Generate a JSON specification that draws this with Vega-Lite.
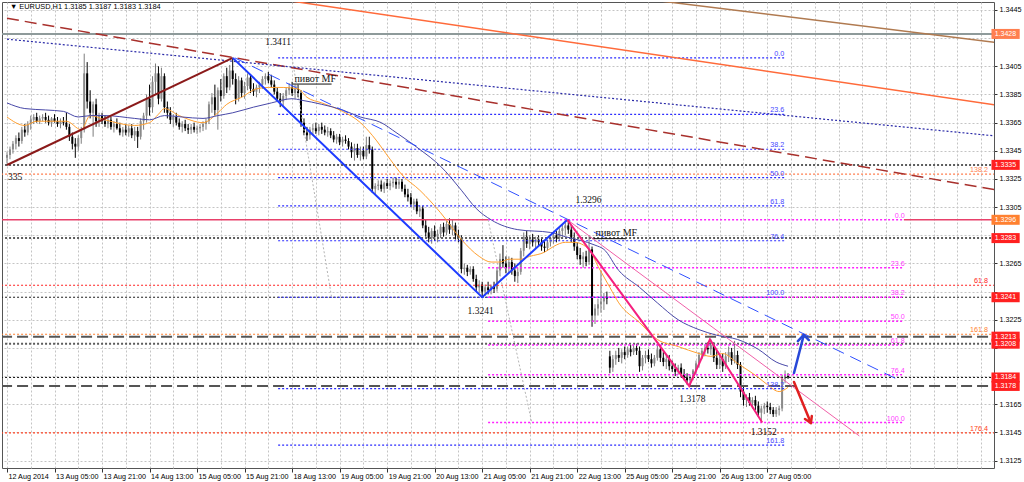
{
  "$schema": "https://vega.github.io/schema/vega-lite/v6.json",
  "width": 992,
  "height": 466,
  "autosize": {"type": "none"},
  "padding": {"left": 2, "top": 2, "right": 30, "bottom": 14},
  "background": "white",
  "config": {"view": {"stroke": "#555555", "strokeWidth": 1}, "text": {"font": "Liberation Sans"}},
  "resolve": {"axis": {"x": "independent", "y": "independent"}},
  "datasets": {
    "candles": [
      {"b":0,"o":1.3340,"h":1.3344,"l":1.3336,"c":1.3342},{"b":1,"o":1.3342,"h":1.3348,"l":1.3339,"c":1.3346},{"b":2,"o":1.3346,"h":1.3352,"l":1.3343,"c":1.3350},{"b":3,"o":1.3350,"h":1.3356,"l":1.3346,"c":1.3354},{"b":4,"o":1.3354,"h":1.3358,"l":1.3348,"c":1.3352},{"b":5,"o":1.3352,"h":1.3362,"l":1.3350,"c":1.3360},{"b":6,"o":1.3360,"h":1.3364,"l":1.3355,"c":1.3358},{"b":7,"o":1.3358,"h":1.3366,"l":1.3356,"c":1.3364},{"b":8,"o":1.3364,"h":1.3370,"l":1.3360,"c":1.3367},
      {"b":9,"o":1.3367,"h":1.3371,"l":1.3364,"c":1.3369},{"b":10,"o":1.3369,"h":1.3372,"l":1.3365,"c":1.3366},{"b":11,"o":1.3366,"h":1.3370,"l":1.3364,"c":1.3368},{"b":12,"o":1.3368,"h":1.3371,"l":1.3366,"c":1.3369},{"b":13,"o":1.3369,"h":1.3372,"l":1.3365,"c":1.3367},{"b":14,"o":1.3367,"h":1.3370,"l":1.3363,"c":1.3365},{"b":15,"o":1.3365,"h":1.3369,"l":1.3362,"c":1.3368},{"b":16,"o":1.3368,"h":1.3371,"l":1.3365,"c":1.3366},{"b":17,"o":1.3366,"h":1.3369,"l":1.3362,"c":1.3364},{"b":18,"o":1.3364,"h":1.3368,"l":1.3361,"c":1.3366},{"b":19,"o":1.3366,"h":1.3369,"l":1.3363,"c":1.3365},
      {"b":20,"o":1.3365,"h":1.3372,"l":1.3360,"c":1.3362},{"b":21,"o":1.3362,"h":1.3364,"l":1.3352,"c":1.3355},{"b":22,"o":1.3355,"h":1.3358,"l":1.3346,"c":1.3350},{"b":23,"o":1.3350,"h":1.3354,"l":1.3340,"c":1.3348},{"b":24,"o":1.3348,"h":1.3356,"l":1.3345,"c":1.3354},{"b":25,"o":1.3354,"h":1.3362,"l":1.3350,"c":1.3360},
      {"b":26,"o":1.3360,"h":1.3414,"l":1.3358,"c":1.3400},{"b":27,"o":1.3400,"h":1.3408,"l":1.3375,"c":1.3380},{"b":28,"o":1.3380,"h":1.3388,"l":1.3368,"c":1.3372},{"b":29,"o":1.3372,"h":1.3380,"l":1.3355,"c":1.3378},{"b":30,"o":1.3378,"h":1.3382,"l":1.3362,"c":1.3366},{"b":31,"o":1.3366,"h":1.3372,"l":1.3362,"c":1.3370},
      {"b":32,"o":1.3370,"h":1.3372,"l":1.3364,"c":1.3366},{"b":33,"o":1.3366,"h":1.3370,"l":1.3362,"c":1.3364},{"b":34,"o":1.3364,"h":1.3369,"l":1.3361,"c":1.3367},{"b":35,"o":1.3367,"h":1.3369,"l":1.3360,"c":1.3362},{"b":36,"o":1.3362,"h":1.3366,"l":1.3358,"c":1.3364},{"b":37,"o":1.3364,"h":1.3368,"l":1.3360,"c":1.3361},{"b":38,"o":1.3361,"h":1.3365,"l":1.3356,"c":1.3358},{"b":39,"o":1.3358,"h":1.3362,"l":1.3355,"c":1.3360},
      {"b":40,"o":1.3360,"h":1.3364,"l":1.3356,"c":1.3358},{"b":41,"o":1.3358,"h":1.3363,"l":1.3355,"c":1.3361},{"b":42,"o":1.3361,"h":1.3364,"l":1.3354,"c":1.3356},{"b":43,"o":1.3356,"h":1.3362,"l":1.3352,"c":1.3359},{"b":44,"o":1.3359,"h":1.3362,"l":1.3347,"c":1.3355},{"b":45,"o":1.3355,"h":1.3368,"l":1.3353,"c":1.3366},
      {"b":46,"o":1.3366,"h":1.3372,"l":1.3360,"c":1.3370},{"b":47,"o":1.3370,"h":1.3385,"l":1.3365,"c":1.3382},{"b":48,"o":1.3382,"h":1.3392,"l":1.3370,"c":1.3376},{"b":49,"o":1.3376,"h":1.3398,"l":1.3372,"c":1.3394},{"b":50,"o":1.3394,"h":1.3407,"l":1.3385,"c":1.3400},{"b":51,"o":1.3400,"h":1.3405,"l":1.3378,"c":1.3382},{"b":52,"o":1.3382,"h":1.3404,"l":1.3380,"c":1.3398},{"b":53,"o":1.3398,"h":1.3400,"l":1.3372,"c":1.3376},
      {"b":54,"o":1.3376,"h":1.3380,"l":1.3368,"c":1.3372},{"b":55,"o":1.3372,"h":1.3376,"l":1.3364,"c":1.3367},{"b":56,"o":1.3367,"h":1.3371,"l":1.3362,"c":1.3369},{"b":57,"o":1.3369,"h":1.3372,"l":1.3363,"c":1.3365},{"b":58,"o":1.3365,"h":1.3368,"l":1.3360,"c":1.3362},{"b":59,"o":1.3362,"h":1.3366,"l":1.3358,"c":1.3364},{"b":60,"o":1.3364,"h":1.3367,"l":1.3359,"c":1.3361},{"b":61,"o":1.3361,"h":1.3364,"l":1.3357,"c":1.3360},{"b":62,"o":1.3360,"h":1.3364,"l":1.3357,"c":1.3362},{"b":63,"o":1.3362,"h":1.3365,"l":1.3358,"c":1.3360},{"b":64,"o":1.3360,"h":1.3363,"l":1.3357,"c":1.3361},
      {"b":65,"o":1.3361,"h":1.3364,"l":1.3358,"c":1.3362},{"b":66,"o":1.3362,"h":1.3366,"l":1.3359,"c":1.3364},{"b":67,"o":1.3364,"h":1.3368,"l":1.3360,"c":1.3366},{"b":68,"o":1.3366,"h":1.3380,"l":1.3364,"c":1.3378},{"b":69,"o":1.3378,"h":1.3386,"l":1.3372,"c":1.3383},{"b":70,"o":1.3383,"h":1.3392,"l":1.3370,"c":1.3374},{"b":71,"o":1.3374,"h":1.3390,"l":1.3360,"c":1.3388},{"b":72,"o":1.3388,"h":1.3396,"l":1.3380,"c":1.3384},{"b":73,"o":1.3384,"h":1.3400,"l":1.3382,"c":1.3398},{"b":74,"o":1.3398,"h":1.3404,"l":1.3386,"c":1.3390},{"b":75,"o":1.3390,"h":1.3406,"l":1.3388,"c":1.3402},{"b":76,"o":1.3402,"h":1.3411,"l":1.3392,"c":1.3396},
      {"b":77,"o":1.3396,"h":1.3400,"l":1.3378,"c":1.3382},{"b":78,"o":1.3382,"h":1.3398,"l":1.3380,"c":1.3395},{"b":79,"o":1.3395,"h":1.3397,"l":1.3383,"c":1.3386},{"b":80,"o":1.3386,"h":1.3394,"l":1.3382,"c":1.3391},{"b":81,"o":1.3391,"h":1.3400,"l":1.3388,"c":1.3397},{"b":82,"o":1.3397,"h":1.3399,"l":1.3386,"c":1.3389},{"b":83,"o":1.3389,"h":1.3393,"l":1.3384,"c":1.3387},{"b":84,"o":1.3387,"h":1.3392,"l":1.3383,"c":1.3390},{"b":85,"o":1.3390,"h":1.3394,"l":1.3386,"c":1.3392},{"b":86,"o":1.3392,"h":1.3398,"l":1.3389,"c":1.3396},{"b":87,"o":1.3396,"h":1.3400,"l":1.3392,"c":1.3398},{"b":88,"o":1.3398,"h":1.3401,"l":1.3393,"c":1.3395},{"b":89,"o":1.3395,"h":1.3399,"l":1.3390,"c":1.3392},{"b":90,"o":1.3392,"h":1.3395,"l":1.3385,"c":1.3387},{"b":91,"o":1.3387,"h":1.3390,"l":1.3380,"c":1.3382},{"b":92,"o":1.3382,"h":1.3386,"l":1.3376,"c":1.3380},{"b":93,"o":1.3380,"h":1.3386,"l":1.3377,"c":1.3384},{"b":94,"o":1.3384,"h":1.3390,"l":1.3381,"c":1.3388},{"b":95,"o":1.3388,"h":1.3393,"l":1.3385,"c":1.3390},{"b":96,"o":1.3390,"h":1.3394,"l":1.3384,"c":1.3386},{"b":97,"o":1.3386,"h":1.3392,"l":1.3382,"c":1.3389},
      {"b":98,"o":1.3389,"h":1.3392,"l":1.3383,"c":1.3386},{"b":99,"o":1.3386,"h":1.3388,"l":1.3362,"c":1.3365},{"b":100,"o":1.3365,"h":1.3368,"l":1.3356,"c":1.3358},{"b":101,"o":1.3358,"h":1.3362,"l":1.3352,"c":1.3356},{"b":102,"o":1.3356,"h":1.3362,"l":1.3353,"c":1.3360},{"b":103,"o":1.3360,"h":1.3364,"l":1.3356,"c":1.3361},{"b":104,"o":1.3361,"h":1.3365,"l":1.3357,"c":1.3359},{"b":105,"o":1.3359,"h":1.3364,"l":1.3356,"c":1.3362},{"b":106,"o":1.3362,"h":1.3365,"l":1.3357,"c":1.3360},{"b":107,"o":1.3360,"h":1.3363,"l":1.3356,"c":1.3358},{"b":108,"o":1.3358,"h":1.3362,"l":1.3355,"c":1.3359},{"b":109,"o":1.3359,"h":1.3361,"l":1.3354,"c":1.3356},{"b":110,"o":1.3356,"h":1.3359,"l":1.3351,"c":1.3353},{"b":111,"o":1.3353,"h":1.3357,"l":1.3350,"c":1.3355},{"b":112,"o":1.3355,"h":1.3357,"l":1.3349,"c":1.3351},{"b":113,"o":1.3351,"h":1.3355,"l":1.3348,"c":1.3353},{"b":114,"o":1.3353,"h":1.3356,"l":1.3350,"c":1.3352},{"b":115,"o":1.3352,"h":1.3354,"l":1.3346,"c":1.3348},{"b":116,"o":1.3348,"h":1.3351,"l":1.3340,"c":1.3344},{"b":117,"o":1.3344,"h":1.3350,"l":1.3338,"c":1.3347},{"b":118,"o":1.3347,"h":1.3350,"l":1.3340,"c":1.3342},{"b":119,"o":1.3342,"h":1.3348,"l":1.3338,"c":1.3345},{"b":120,"o":1.3345,"h":1.3348,"l":1.3339,"c":1.3341},{"b":121,"o":1.3341,"h":1.3355,"l":1.3339,"c":1.3349},{"b":122,"o":1.3349,"h":1.3355,"l":1.3343,"c":1.3346},
      {"b":123,"o":1.3346,"h":1.3348,"l":1.3315,"c":1.3318},{"b":124,"o":1.3318,"h":1.3322,"l":1.3314,"c":1.3320},{"b":125,"o":1.3320,"h":1.3324,"l":1.3317,"c":1.3321},{"b":126,"o":1.3321,"h":1.3324,"l":1.3316,"c":1.3318},{"b":127,"o":1.3318,"h":1.3323,"l":1.3315,"c":1.3322},{"b":128,"o":1.3322,"h":1.3325,"l":1.3318,"c":1.3320},{"b":129,"o":1.3320,"h":1.3324,"l":1.3317,"c":1.3322},{"b":130,"o":1.3322,"h":1.3326,"l":1.3319,"c":1.3323},{"b":131,"o":1.3323,"h":1.3326,"l":1.3318,"c":1.3321},{"b":132,"o":1.3321,"h":1.3325,"l":1.3318,"c":1.3323},{"b":133,"o":1.3323,"h":1.3325,"l":1.3316,"c":1.3318},{"b":134,"o":1.3318,"h":1.3321,"l":1.3312,"c":1.3314},{"b":135,"o":1.3314,"h":1.3318,"l":1.3309,"c":1.3312},
      {"b":136,"o":1.3312,"h":1.3315,"l":1.3305,"c":1.3307},{"b":137,"o":1.3307,"h":1.3311,"l":1.3303,"c":1.3309},{"b":138,"o":1.3309,"h":1.3311,"l":1.3300,"c":1.3302},{"b":139,"o":1.3302,"h":1.3306,"l":1.3298,"c":1.3304},{"b":140,"o":1.3304,"h":1.3306,"l":1.3290,"c":1.3292},{"b":141,"o":1.3292,"h":1.3296,"l":1.3284,"c":1.3287},{"b":142,"o":1.3287,"h":1.3291,"l":1.3280,"c":1.3283},{"b":143,"o":1.3283,"h":1.3290,"l":1.3279,"c":1.3288},{"b":144,"o":1.3288,"h":1.3292,"l":1.3281,"c":1.3284},{"b":145,"o":1.3284,"h":1.3289,"l":1.3280,"c":1.3286},{"b":146,"o":1.3286,"h":1.3293,"l":1.3283,"c":1.3291},{"b":147,"o":1.3291,"h":1.3294,"l":1.3284,"c":1.3287},{"b":148,"o":1.3287,"h":1.3295,"l":1.3285,"c":1.3293},{"b":149,"o":1.3293,"h":1.3297,"l":1.3286,"c":1.3289},{"b":150,"o":1.3289,"h":1.3296,"l":1.3285,"c":1.3292},{"b":151,"o":1.3292,"h":1.3294,"l":1.3282,"c":1.3285},{"b":152,"o":1.3285,"h":1.3289,"l":1.3280,"c":1.3283},
      {"b":153,"o":1.3283,"h":1.3285,"l":1.3258,"c":1.3261},{"b":154,"o":1.3261,"h":1.3265,"l":1.3257,"c":1.3262},{"b":155,"o":1.3262,"h":1.3264,"l":1.3256,"c":1.3259},{"b":156,"o":1.3259,"h":1.3263,"l":1.3257,"c":1.3261},{"b":157,"o":1.3261,"h":1.3263,"l":1.3252,"c":1.3254},{"b":158,"o":1.3254,"h":1.3257,"l":1.3245,"c":1.3248},{"b":159,"o":1.3248,"h":1.3253,"l":1.3244,"c":1.3250},{"b":160,"o":1.3250,"h":1.3252,"l":1.3241,"c":1.3245},{"b":161,"o":1.3245,"h":1.3250,"l":1.3242,"c":1.3248},
      {"b":162,"o":1.3248,"h":1.3252,"l":1.3243,"c":1.3246},{"b":163,"o":1.3246,"h":1.3250,"l":1.3243,"c":1.3249},{"b":164,"o":1.3249,"h":1.3252,"l":1.3244,"c":1.3247},{"b":165,"o":1.3247,"h":1.3262,"l":1.3245,"c":1.3260},{"b":166,"o":1.3260,"h":1.3272,"l":1.3256,"c":1.3268},{"b":167,"o":1.3268,"h":1.3278,"l":1.3262,"c":1.3265},{"b":168,"o":1.3265,"h":1.3270,"l":1.3258,"c":1.3262},
      {"b":169,"o":1.3262,"h":1.3270,"l":1.3258,"c":1.3266},{"b":170,"o":1.3266,"h":1.3269,"l":1.3257,"c":1.3260},{"b":171,"o":1.3260,"h":1.3265,"l":1.3252,"c":1.3256},{"b":172,"o":1.3256,"h":1.3262,"l":1.3251,"c":1.3259},{"b":173,"o":1.3259,"h":1.3276,"l":1.3257,"c":1.3274},{"b":174,"o":1.3274,"h":1.3287,"l":1.3270,"c":1.3284},{"b":175,"o":1.3284,"h":1.3288,"l":1.3276,"c":1.3279},
      {"b":176,"o":1.3279,"h":1.3285,"l":1.3275,"c":1.3282},{"b":177,"o":1.3282,"h":1.3286,"l":1.3277,"c":1.3280},{"b":178,"o":1.3280,"h":1.3284,"l":1.3276,"c":1.3282},{"b":179,"o":1.3282,"h":1.3285,"l":1.3278,"c":1.3280},{"b":180,"o":1.3280,"h":1.3283,"l":1.3274,"c":1.3277},{"b":181,"o":1.3277,"h":1.3281,"l":1.3273,"c":1.3276},{"b":182,"o":1.3276,"h":1.3282,"l":1.3274,"c":1.3280},{"b":183,"o":1.3280,"h":1.3284,"l":1.3277,"c":1.3283},{"b":184,"o":1.3283,"h":1.3287,"l":1.3279,"c":1.3285},{"b":185,"o":1.3285,"h":1.3288,"l":1.3280,"c":1.3283},{"b":186,"o":1.3283,"h":1.3290,"l":1.3281,"c":1.3288},{"b":187,"o":1.3288,"h":1.3293,"l":1.3284,"c":1.3290},{"b":188,"o":1.3290,"h":1.3294,"l":1.3285,"c":1.3292},{"b":189,"o":1.3292,"h":1.3296,"l":1.3286,"c":1.3289},
      {"b":190,"o":1.3289,"h":1.3292,"l":1.3280,"c":1.3283},{"b":191,"o":1.3283,"h":1.3287,"l":1.3274,"c":1.3277},{"b":192,"o":1.3277,"h":1.3280,"l":1.3268,"c":1.3271},{"b":193,"o":1.3271,"h":1.3276,"l":1.3264,"c":1.3268},{"b":194,"o":1.3268,"h":1.3273,"l":1.3262,"c":1.3270},{"b":195,"o":1.3270,"h":1.3274,"l":1.3263,"c":1.3266},{"b":196,"o":1.3266,"h":1.3285,"l":1.3264,"c":1.3275},{"b":197,"o":1.3275,"h":1.3277,"l":1.3220,"c":1.3228},{"b":198,"o":1.3228,"h":1.3236,"l":1.3222,"c":1.3233},{"b":199,"o":1.3233,"h":1.3240,"l":1.3228,"c":1.3236},{"b":200,"o":1.3236,"h":1.3260,"l":1.3230,"c":1.3238},{"b":201,"o":1.3238,"h":1.3244,"l":1.3232,"c":1.3241},{"b":202,"o":1.3241,"h":1.3245,"l":1.3236,"c":1.3240},
      {"b":203,"o":1.3199,"h":1.3203,"l":1.3187,"c":1.3191},{"b":204,"o":1.3191,"h":1.3200,"l":1.3188,"c":1.3197},{"b":205,"o":1.3197,"h":1.3203,"l":1.3193,"c":1.3200},{"b":206,"o":1.3200,"h":1.3205,"l":1.3195,"c":1.3198},{"b":207,"o":1.3198,"h":1.3204,"l":1.3194,"c":1.3202},{"b":208,"o":1.3202,"h":1.3206,"l":1.3197,"c":1.3200},{"b":209,"o":1.3200,"h":1.3206,"l":1.3198,"c":1.3204},{"b":210,"o":1.3204,"h":1.3207,"l":1.3199,"c":1.3202},{"b":211,"o":1.3202,"h":1.3207,"l":1.3200,"c":1.3205},{"b":212,"o":1.3205,"h":1.3208,"l":1.3200,"c":1.3203},{"b":213,"o":1.3203,"h":1.3206,"l":1.3188,"c":1.3192},{"b":214,"o":1.3192,"h":1.3200,"l":1.3189,"c":1.3198},{"b":215,"o":1.3198,"h":1.3203,"l":1.3194,"c":1.3200},{"b":216,"o":1.3200,"h":1.3204,"l":1.3195,"c":1.3197},{"b":217,"o":1.3197,"h":1.3201,"l":1.3191,"c":1.3194},{"b":218,"o":1.3194,"h":1.3200,"l":1.3192,"c":1.3198},{"b":219,"o":1.3198,"h":1.3208,"l":1.3196,"c":1.3204},{"b":220,"o":1.3204,"h":1.3207,"l":1.3195,"c":1.3198},{"b":221,"o":1.3198,"h":1.3202,"l":1.3192,"c":1.3195},{"b":222,"o":1.3195,"h":1.3200,"l":1.3190,"c":1.3197},{"b":223,"o":1.3197,"h":1.3200,"l":1.3189,"c":1.3192},{"b":224,"o":1.3192,"h":1.3196,"l":1.3188,"c":1.3190},{"b":225,"o":1.3190,"h":1.3194,"l":1.3185,"c":1.3188},{"b":226,"o":1.3188,"h":1.3193,"l":1.3186,"c":1.3191},{"b":227,"o":1.3191,"h":1.3194,"l":1.3184,"c":1.3186},{"b":228,"o":1.3186,"h":1.3190,"l":1.3182,"c":1.3184},{"b":229,"o":1.3184,"h":1.3187,"l":1.3179,"c":1.3182},{"b":230,"o":1.3182,"h":1.3186,"l":1.3178,"c":1.3184},
      {"b":231,"o":1.3184,"h":1.3190,"l":1.3182,"c":1.3189},{"b":232,"o":1.3189,"h":1.3196,"l":1.3186,"c":1.3194},{"b":233,"o":1.3194,"h":1.3202,"l":1.3191,"c":1.3200},{"b":234,"o":1.3200,"h":1.3205,"l":1.3197,"c":1.3203},{"b":235,"o":1.3203,"h":1.3207,"l":1.3199,"c":1.3205},{"b":236,"o":1.3205,"h":1.3209,"l":1.3201,"c":1.3204},{"b":237,"o":1.3204,"h":1.3211,"l":1.3200,"c":1.3207},{"b":238,"o":1.3207,"h":1.3209,"l":1.3195,"c":1.3198},{"b":239,"o":1.3198,"h":1.3203,"l":1.3190,"c":1.3193},{"b":240,"o":1.3193,"h":1.3200,"l":1.3190,"c":1.3197},{"b":241,"o":1.3197,"h":1.3201,"l":1.3188,"c":1.3192},{"b":242,"o":1.3192,"h":1.3202,"l":1.3190,"c":1.3199},{"b":243,"o":1.3199,"h":1.3206,"l":1.3195,"c":1.3202},{"b":244,"o":1.3202,"h":1.3205,"l":1.3193,"c":1.3196},{"b":245,"o":1.3196,"h":1.3210,"l":1.3194,"c":1.3200},{"b":246,"o":1.3200,"h":1.3203,"l":1.3190,"c":1.3193},
      {"b":247,"o":1.3193,"h":1.3195,"l":1.3170,"c":1.3174},{"b":248,"o":1.3174,"h":1.3178,"l":1.3164,"c":1.3168},{"b":249,"o":1.3168,"h":1.3172,"l":1.3163,"c":1.3170},{"b":250,"o":1.3170,"h":1.3173,"l":1.3164,"c":1.3166},{"b":251,"o":1.3166,"h":1.3170,"l":1.3162,"c":1.3168},{"b":252,"o":1.3168,"h":1.3171,"l":1.3161,"c":1.3164},{"b":253,"o":1.3164,"h":1.3167,"l":1.3156,"c":1.3159},{"b":254,"o":1.3159,"h":1.3164,"l":1.3152,"c":1.3162},{"b":255,"o":1.3162,"h":1.3166,"l":1.3158,"c":1.3164},{"b":256,"o":1.3164,"h":1.3167,"l":1.3159,"c":1.3163},{"b":257,"o":1.3163,"h":1.3166,"l":1.3158,"c":1.3161},{"b":258,"o":1.3161,"h":1.3163,"l":1.3156,"c":1.3158},{"b":259,"o":1.3158,"h":1.3163,"l":1.3156,"c":1.3161},{"b":260,"o":1.3161,"h":1.3164,"l":1.3157,"c":1.3162},{"b":261,"o":1.3162,"h":1.3186,"l":1.3160,"c":1.3183},{"b":262,"o":1.3183,"h":1.3189,"l":1.3180,"c":1.3186},{"b":263,"o":1.3185,"h":1.3187,"l":1.3183,"c":1.3184}
    ],
    "ma": [
      {"s":"f","b":0,"p":1.3369},{"s":"f","b":6,"p":1.3363},{"s":"f","b":10,"p":1.3366},{"s":"f","b":20,"p":1.3366},{"s":"f","b":25,"p":1.3360},{"s":"f","b":28,"p":1.3370},{"s":"f","b":33,"p":1.3367},{"s":"f","b":43,"p":1.3363},{"s":"f","b":48,"p":1.3365},{"s":"f","b":51,"p":1.3371},{"s":"f","b":53,"p":1.3375},{"s":"f","b":58,"p":1.3370},{"s":"f","b":66,"p":1.3365},{"s":"f","b":71,"p":1.3372},{"s":"f","b":74,"p":1.3378},{"s":"f","b":79,"p":1.3383},{"s":"f","b":84,"p":1.3389},{"s":"f","b":88,"p":1.3390},{"s":"f","b":93,"p":1.3390},{"s":"f","b":98,"p":1.3389},{"s":"f","b":101,"p":1.3383},{"s":"f","b":106,"p":1.3379},{"s":"f","b":113,"p":1.3373},{"s":"f","b":119,"p":1.3365},{"s":"f","b":123,"p":1.3356},{"s":"f","b":129,"p":1.3339},{"s":"f","b":133,"p":1.3328},{"s":"f","b":139,"p":1.3317},{"s":"f","b":146,"p":1.3301},{"s":"f","b":153,"p":1.3282},{"s":"f","b":159,"p":1.3270},{"s":"f","b":163,"p":1.3266},{"s":"f","b":166,"p":1.3266},{"s":"f","b":169,"p":1.3268},{"s":"f","b":173,"p":1.3268},{"s":"f","b":176,"p":1.3270},{"s":"f","b":181,"p":1.3273},{"s":"f","b":184,"p":1.3277},{"s":"f","b":188,"p":1.3280},{"s":"f","b":191,"p":1.3280},{"s":"f","b":196,"p":1.3275},{"s":"f","b":199,"p":1.3263},{"s":"f","b":203,"p":1.3248},{"s":"f","b":206,"p":1.3237},{"s":"f","b":213,"p":1.3223},{"s":"f","b":219,"p":1.3211},{"s":"f","b":226,"p":1.3206},{"s":"f","b":233,"p":1.3201},{"s":"f","b":237,"p":1.3199},{"s":"f","b":241,"p":1.3201},{"s":"f","b":246,"p":1.3194},{"s":"f","b":253,"p":1.3184},{"s":"f","b":256,"p":1.3179},{"s":"f","b":260,"p":1.3174},{"s":"f","b":263,"p":1.3177},
      {"s":"s","b":0,"p":1.3379},{"s":"s","b":6,"p":1.3375},{"s":"s","b":13,"p":1.3374},{"s":"s","b":19,"p":1.3373},{"s":"s","b":24,"p":1.3369},{"s":"s","b":28,"p":1.3370},{"s":"s","b":33,"p":1.3370},{"s":"s","b":43,"p":1.3368},{"s":"s","b":48,"p":1.3367},{"s":"s","b":53,"p":1.3370},{"s":"s","b":59,"p":1.3369},{"s":"s","b":66,"p":1.3368},{"s":"s","b":71,"p":1.3370},{"s":"s","b":76,"p":1.3372},{"s":"s","b":83,"p":1.3376},{"s":"s","b":89,"p":1.3379},{"s":"s","b":96,"p":1.3382},{"s":"s","b":99,"p":1.3381},{"s":"s","b":106,"p":1.3378},{"s":"s","b":113,"p":1.3374},{"s":"s","b":119,"p":1.3369},{"s":"s","b":126,"p":1.3365},{"s":"s","b":131,"p":1.3358},{"s":"s","b":139,"p":1.3346},{"s":"s","b":146,"p":1.3334},{"s":"s","b":153,"p":1.3317},{"s":"s","b":158,"p":1.3304},{"s":"s","b":163,"p":1.3296},{"s":"s","b":172,"p":1.3289},{"s":"s","b":183,"p":1.3287},{"s":"s","b":188,"p":1.3284},{"s":"s","b":198,"p":1.3278},{"s":"s","b":201,"p":1.3275},{"s":"s","b":206,"p":1.3260},{"s":"s","b":213,"p":1.3248},{"s":"s","b":219,"p":1.3237},{"s":"s","b":226,"p":1.3225},{"s":"s","b":233,"p":1.3218},{"s":"s","b":239,"p":1.3214},{"s":"s","b":246,"p":1.3211},{"s":"s","b":253,"p":1.3204},{"s":"s","b":259,"p":1.3195},{"s":"s","b":263,"p":1.3192}
    ],
    "levels": [
      {"k":"graysolid","p":1.3428,"b1":-2,"b2":333},
      {"k":"pivotdot","p":1.3335,"b1":-2,"b2":333},
      {"k":"pivotdot","p":1.3283,"b1":-2,"b2":333},
      {"k":"pivotdot","p":1.3208,"b1":-2,"b2":333},
      {"k":"blackdot","p":1.3241,"b1":-2,"b2":333},
      {"k":"blackdot","p":1.3184,"b1":-2,"b2":333},
      {"k":"longdash","p":1.3213,"b1":-2,"b2":333},
      {"k":"longdash","p":1.3178,"b1":-2,"b2":333},
      {"k":"crimson","p":1.3296,"b1":-2,"b2":162},
      {"k":"crimson","p":1.3296,"b1":302,"b2":333},
      {"k":"ext","t":"138.2","p":1.33285,"b1":-2,"b2":333},
      {"k":"ext","t":"61.8","p":1.32495,"b1":-2,"b2":333},
      {"k":"ext","t":"161.8","p":1.32147,"b1":-2,"b2":333},
      {"k":"ext","t":"176.4","p":1.31446,"b1":-2,"b2":333},
      {"k":"fibblue","p":1.3411,"b1":91.3,"b2":261.7},
      {"k":"fibblue","p":1.33709,"b1":91.3,"b2":261.7},
      {"k":"fibblue","p":1.33461,"b1":91.3,"b2":261.7},
      {"k":"fibblue","p":1.3326,"b1":91.3,"b2":261.7},
      {"k":"fibblue","p":1.33059,"b1":91.3,"b2":261.7},
      {"k":"fibblue","p":1.32811,"b1":91.3,"b2":261.7},
      {"k":"fibblue","p":1.3241,"b1":91.3,"b2":261.7},
      {"k":"fibblue","p":1.31761,"b1":91.3,"b2":261.7},
      {"k":"fibblue","p":1.31359,"b1":91.3,"b2":261.7},
      {"k":"fibmag","p":1.3296,"b1":162,"b2":302},
      {"k":"fibmag","p":1.3262,"b1":162,"b2":302},
      {"k":"fibmag","p":1.3241,"b1":162,"b2":302},
      {"k":"fibmag","p":1.3224,"b1":162,"b2":302},
      {"k":"fibmag","p":1.3207,"b1":162,"b2":302},
      {"k":"fibmag","p":1.3186,"b1":162,"b2":302},
      {"k":"fibmag","p":1.3152,"b1":162,"b2":302},
      {"k":"under","p":1.33924,"b1":96.3,"b2":109.3},
      {"k":"under","p":1.32826,"b1":197,"b2":208.3}
    ],
    "segs": [
      {"k":"browntop","b1":218,"p1":1.34519,"b2":333,"p2":1.34219},
      {"k":"coral","b1":93,"p1":1.34522,"b2":333,"p2":1.33775},
      {"k":"browndash","b1":0,"p1":1.34391,"b2":333,"p2":1.33172},
      {"k":"navydot","b1":0,"p1":1.34243,"b2":333,"p2":1.33555},
      {"k":"darkred","b1":0,"p1":1.33349,"b2":76,"p2":1.3411},
      {"k":"bluedash","b1":76.7,"p1":1.3411,"b2":301,"p2":1.31815},
      {"k":"pinkthin","b1":188.7,"p1":1.3296,"b2":287,"p2":1.31425},
      {"k":"diag","b1":96,"p1":1.3411,"b2":109.3,"p2":1.3241},
      {"k":"diag","b1":162,"p1":1.3296,"b2":176.7,"p2":1.3152},
      {"k":"bluearrow","b1":265,"p1":1.31872,"b2":268.3,"p2":1.32142},
      {"k":"bluearrow","b1":268.3,"p1":1.32142,"b2":266.3,"p2":1.32099},
      {"k":"bluearrow","b1":268.3,"p1":1.32142,"b2":270,"p2":1.32106},
      {"k":"redarrow","b1":265,"p1":1.31808,"b2":270.7,"p2":1.31517},
      {"k":"redarrow","b1":270.7,"p1":1.31517,"b2":268.7,"p2":1.31545},
      {"k":"redarrow","b1":270.7,"p1":1.31517,"b2":271,"p2":1.31566}
    ],
    "zz": [
      {"z":"blue","i":0,"b":76,"p":1.3411},{"z":"blue","i":1,"b":160,"p":1.3241},{"z":"blue","i":2,"b":188.7,"p":1.3296},
      {"z":"pink","i":0,"b":188.7,"p":1.3296},{"z":"pink","i":1,"b":229.7,"p":1.3178},{"z":"pink","i":2,"b":236.7,"p":1.3211},{"z":"pink","i":3,"b":254.3,"p":1.3152}
    ],
    "txt": [
      {"k":"serif","t":"1.3411","b":91.3,"p":1.34221},
      {"k":"serif","t":"1.3296","b":195.8,"p":1.33101},
      {"k":"serif","t":"1.3241","b":159.5,"p":1.32314},
      {"k":"serif","t":"1.3178","b":230.8,"p":1.31687},
      {"k":"serif","t":"1.3152","b":254.8,"p":1.31455},
      {"k":"pivot","t":"пивот MF","b":96.8,"p":1.33962},
      {"k":"pivot","t":"пивот MF","b":198.2,"p":1.32868},
      {"k":"edge","t":"335","b":0,"p":1.33264}
    ],
    "fib": [
      {"k":"blue","t":"0.0","b":261.7,"p":1.3411},
      {"k":"blue","t":"23.6","b":261.7,"p":1.33709},
      {"k":"blue","t":"38.2","b":261.7,"p":1.33461},
      {"k":"blue","t":"50.0","b":261.7,"p":1.3326},
      {"k":"blue","t":"61.8","b":261.7,"p":1.33059},
      {"k":"blue","t":"76.4","b":261.7,"p":1.32811},
      {"k":"blue","t":"100.0","b":261.7,"p":1.3241},
      {"k":"blue","t":"138.2","b":261.7,"p":1.31761},
      {"k":"blue","t":"161.8","b":261.7,"p":1.31359},
      {"k":"mag","t":"0.0","b":302.3,"p":1.3296},
      {"k":"mag","t":"23.6","b":302.3,"p":1.3262},
      {"k":"mag","t":"38.2","b":302.3,"p":1.3241},
      {"k":"mag","t":"50.0","b":302.3,"p":1.3224},
      {"k":"mag","t":"61.8","b":302.3,"p":1.3207},
      {"k":"mag","t":"76.4","b":302.3,"p":1.3186},
      {"k":"mag","t":"100.0","b":302.3,"p":1.3152}
    ],
    "ext": [
      {"t":"138.2","b":330.3,"p":1.33285},
      {"t":"61.8","b":330.3,"p":1.32495},
      {"t":"161.8","b":330.3,"p":1.32147},
      {"t":"176.4","b":330.3,"p":1.31446}
    ],
    "boxes": [
      {"k":"slate","t":"1.3428","p":1.3428},
      {"k":"black","t":"1.3335","p":1.3335},
      {"k":"crimson","t":"1.3296","p":1.3296},
      {"k":"black","t":"1.3283","p":1.3283},
      {"k":"black","t":"1.3241","p":1.3241},
      {"k":"black","t":"1.3208","p":1.3208},
      {"k":"black","t":"1.3213","p":1.3213},
      {"k":"black","t":"1.3184","p":1.3184},
      {"k":"black","t":"1.3178","p":1.3178}
    ],
    "head": [
      {"t":"▼ EURUSD,H1  1.3185 1.3187 1.3183 1.3184","b":1,"p":1.34469}
    ]
  },
  "layer": [
    {
      "data": {"name": "candles"},
      "mark": {"type": "rule", "strokeWidth": 1, "clip": true},
      "encoding": {
        "x": {"field": "b", "type": "quantitative", "scale": {"domain": [0, 330.667], "nice": false, "zero": false},
          "axis": {"orient": "bottom", "values": [0,8,16,24,32,40,48,56,64,72,80,88,96,104,112,120,128,136,144,152,160,168,176,184,192,200,208,216,224,232,240,248,256,264,272,280,288,296,304,312,320,328],
            "grid": true, "gridColor": "#c4c4c4", "gridDash": [2, 2], "domain": false, "tickSize": 4, "tickColor": "#333333",
            "tickOpacity": {"condition": {"test": "datum.value % 16 == 0 && datum.value <= 256", "value": 1}, "value": 0},
            "labelExpr": "(datum.value % 16 == 0 && datum.value <= 256) ? ['12 Aug 2014','13 Aug 05:00','13 Aug 21:00','14 Aug 13:00','15 Aug 05:00','15 Aug 21:00','18 Aug 13:00','19 Aug 05:00','19 Aug 21:00','20 Aug 13:00','21 Aug 05:00','21 Aug 21:00','22 Aug 13:00','25 Aug 05:00','25 Aug 21:00','26 Aug 13:00','27 Aug 05:00'][datum.value / 16] : ''",
            "labelAlign": "left", "labelBaseline": "top", "labelPadding": 0, "labelOffset": 1, "labelFont": "Liberation Sans", "labelFontSize": 7.2, "labelColor": "#000000", "labelOverlap": false, "labelFlush": false, "title": null}},
        "y": {"field": "l", "type": "quantitative", "scale": {"domain": [1.311972, 1.345068], "nice": false, "zero": false},
          "axis": {"orient": "right", "values": [1.3125,1.3145,1.3165,1.3185,1.3205,1.3225,1.3245,1.3265,1.3285,1.3305,1.3325,1.3345,1.3365,1.3385,1.3405,1.3425,1.3445],
            "grid": true, "gridColor": "#c4c4c4", "gridDash": [2, 2], "domain": false, "tickSize": 3, "tickColor": "#333333",
            "labelExpr": "(abs(datum.value - 1.3425) < 0.00001 || abs(datum.value - 1.3285) < 0.00001 || abs(datum.value - 1.3185) < 0.00001 || abs(datum.value - 1.3205) < 0.00001 || abs(datum.value - 1.3245) < 0.00001) ? '' : format(datum.value, '.4f')",
            "labelPadding": 2, "labelFont": "Liberation Sans", "labelFontSize": 7.2, "labelColor": "#000000", "labelOverlap": false, "labelFlush": false, "title": null}},
        "y2": {"field": "h"},
        "color": {"condition": {"test": "datum.c >= datum.o", "value": "#7d7d7d"}, "value": "#000000"}
      }
    },
    {
      "data": {"name": "candles"},
      "mark": {"type": "bar", "size": 2, "clip": true},
      "encoding": {
        "x": {"field": "b", "type": "quantitative", "scale": {"domain": [0, 330.667], "nice": false, "zero": false}, "axis": null},
        "y": {"field": "o", "type": "quantitative", "scale": {"domain": [1.311972, 1.345068], "nice": false, "zero": false}, "axis": null},
        "y2": {"field": "c"},
        "color": {"condition": {"test": "datum.c >= datum.o", "value": "#8a8a8a"}, "value": "#000000"}
      }
    },
    {
      "data": {"name": "levels"},
      "transform": [{"filter": "datum.k == 'graysolid'"}],
      "mark": {"type": "rule", "clip": true, "color": "#8e9a9a", "strokeWidth": 2},
      "encoding": {
        "x": {"field": "b1", "type": "quantitative", "scale": {"domain": [0, 330.667], "nice": false, "zero": false}, "axis": null},
        "x2": {"field": "b2"},
        "y": {"field": "p", "type": "quantitative", "scale": {"domain": [1.311972, 1.345068], "nice": false, "zero": false}, "axis": null}
      }
    },
    {
      "data": {"name": "levels"},
      "transform": [{"filter": "datum.k == 'pivotdot'"}],
      "mark": {"type": "rule", "clip": true, "color": "#5c5c5c", "strokeWidth": 2, "strokeDash": [2, 2]},
      "encoding": {
        "x": {"field": "b1", "type": "quantitative", "scale": {"domain": [0, 330.667], "nice": false, "zero": false}, "axis": null},
        "x2": {"field": "b2"},
        "y": {"field": "p", "type": "quantitative", "scale": {"domain": [1.311972, 1.345068], "nice": false, "zero": false}, "axis": null}
      }
    },
    {
      "data": {"name": "levels"},
      "transform": [{"filter": "datum.k == 'blackdot'"}],
      "mark": {"type": "rule", "clip": true, "color": "#1a1a1a", "strokeWidth": 1, "strokeDash": [2, 2]},
      "encoding": {
        "x": {"field": "b1", "type": "quantitative", "scale": {"domain": [0, 330.667], "nice": false, "zero": false}, "axis": null},
        "x2": {"field": "b2"},
        "y": {"field": "p", "type": "quantitative", "scale": {"domain": [1.311972, 1.345068], "nice": false, "zero": false}, "axis": null}
      }
    },
    {
      "data": {"name": "levels"},
      "transform": [{"filter": "datum.k == 'longdash'"}],
      "mark": {"type": "rule", "clip": true, "color": "#555555", "strokeWidth": 2, "strokeDash": [11, 5]},
      "encoding": {
        "x": {"field": "b1", "type": "quantitative", "scale": {"domain": [0, 330.667], "nice": false, "zero": false}, "axis": null},
        "x2": {"field": "b2"},
        "y": {"field": "p", "type": "quantitative", "scale": {"domain": [1.311972, 1.345068], "nice": false, "zero": false}, "axis": null}
      }
    },
    {
      "data": {"name": "levels"},
      "transform": [{"filter": "datum.k == 'crimson'"}],
      "mark": {"type": "rule", "clip": true, "color": "#e8406a", "strokeWidth": 1.5},
      "encoding": {
        "x": {"field": "b1", "type": "quantitative", "scale": {"domain": [0, 330.667], "nice": false, "zero": false}, "axis": null},
        "x2": {"field": "b2"},
        "y": {"field": "p", "type": "quantitative", "scale": {"domain": [1.311972, 1.345068], "nice": false, "zero": false}, "axis": null}
      }
    },
    {
      "data": {"name": "levels"},
      "transform": [{"filter": "datum.k == 'ext'"}],
      "mark": {"type": "rule", "clip": true, "strokeWidth": 1.2, "strokeDash": [2, 2]},
      "encoding": {
        "x": {"field": "b1", "type": "quantitative", "scale": {"domain": [0, 330.667], "nice": false, "zero": false}, "axis": null},
        "x2": {"field": "b2"},
        "y": {"field": "p", "type": "quantitative", "scale": {"domain": [1.311972, 1.345068], "nice": false, "zero": false}, "axis": null},
        "color": {"field": "t", "type": "nominal", "scale": {"domain": ["138.2", "61.8", "161.8", "176.4"], "range": ["#ff7f50", "#ff2020", "#ff8030", "#ff4020"]}, "legend": null}
      }
    },
    {
      "data": {"name": "levels"},
      "transform": [{"filter": "datum.k == 'fibblue'"}],
      "mark": {"type": "rule", "clip": true, "color": "#2c2cff", "strokeWidth": 1.2, "strokeDash": [2, 2]},
      "encoding": {
        "x": {"field": "b1", "type": "quantitative", "scale": {"domain": [0, 330.667], "nice": false, "zero": false}, "axis": null},
        "x2": {"field": "b2"},
        "y": {"field": "p", "type": "quantitative", "scale": {"domain": [1.311972, 1.345068], "nice": false, "zero": false}, "axis": null}
      }
    },
    {
      "data": {"name": "levels"},
      "transform": [{"filter": "datum.k == 'fibmag'"}],
      "mark": {"type": "rule", "clip": true, "color": "#ff22ff", "strokeWidth": 1.5, "strokeDash": [2, 2]},
      "encoding": {
        "x": {"field": "b1", "type": "quantitative", "scale": {"domain": [0, 330.667], "nice": false, "zero": false}, "axis": null},
        "x2": {"field": "b2"},
        "y": {"field": "p", "type": "quantitative", "scale": {"domain": [1.311972, 1.345068], "nice": false, "zero": false}, "axis": null}
      }
    },
    {
      "data": {"name": "levels"},
      "transform": [{"filter": "datum.k == 'under'"}],
      "mark": {"type": "rule", "clip": true, "color": "#111111", "strokeWidth": 1},
      "encoding": {
        "x": {"field": "b1", "type": "quantitative", "scale": {"domain": [0, 330.667], "nice": false, "zero": false}, "axis": null},
        "x2": {"field": "b2"},
        "y": {"field": "p", "type": "quantitative", "scale": {"domain": [1.311972, 1.345068], "nice": false, "zero": false}, "axis": null}
      }
    },
    {
      "data": {"name": "segs"},
      "transform": [{"filter": "datum.k == 'diag'"}],
      "mark": {"type": "rule", "clip": true, "color": "#b4b4b4", "strokeWidth": 1, "strokeDash": [2, 2]},
      "encoding": {
        "x": {"field": "b1", "type": "quantitative", "scale": {"domain": [0, 330.667], "nice": false, "zero": false}, "axis": null},
        "x2": {"field": "b2"},
        "y": {"field": "p1", "type": "quantitative", "scale": {"domain": [1.311972, 1.345068], "nice": false, "zero": false}, "axis": null},
        "y2": {"field": "p2"}
      }
    },
    {
      "data": {"name": "ma"},
      "transform": [{"filter": "datum.s == 'f'"}],
      "mark": {"type": "line", "clip": true, "color": "#ffa030", "strokeWidth": 1, "interpolate": "monotone"},
      "encoding": {
        "x": {"field": "b", "type": "quantitative", "scale": {"domain": [0, 330.667], "nice": false, "zero": false}, "axis": null},
        "y": {"field": "p", "type": "quantitative", "scale": {"domain": [1.311972, 1.345068], "nice": false, "zero": false}, "axis": null}
      }
    },
    {
      "data": {"name": "ma"},
      "transform": [{"filter": "datum.s == 's'"}],
      "mark": {"type": "line", "clip": true, "color": "#4848a8", "strokeWidth": 1, "interpolate": "monotone"},
      "encoding": {
        "x": {"field": "b", "type": "quantitative", "scale": {"domain": [0, 330.667], "nice": false, "zero": false}, "axis": null},
        "y": {"field": "p", "type": "quantitative", "scale": {"domain": [1.311972, 1.345068], "nice": false, "zero": false}, "axis": null}
      }
    },
    {
      "data": {"name": "segs"},
      "transform": [{"filter": "datum.k == 'browntop'"}],
      "mark": {"type": "rule", "clip": true, "color": "#b07a50", "strokeWidth": 1.5},
      "encoding": {
        "x": {"field": "b1", "type": "quantitative", "scale": {"domain": [0, 330.667], "nice": false, "zero": false}, "axis": null},
        "x2": {"field": "b2"},
        "y": {"field": "p1", "type": "quantitative", "scale": {"domain": [1.311972, 1.345068], "nice": false, "zero": false}, "axis": null},
        "y2": {"field": "p2"}
      }
    },
    {
      "data": {"name": "segs"},
      "transform": [{"filter": "datum.k == 'coral'"}],
      "mark": {"type": "rule", "clip": true, "color": "#ff6a3a", "strokeWidth": 1.5},
      "encoding": {
        "x": {"field": "b1", "type": "quantitative", "scale": {"domain": [0, 330.667], "nice": false, "zero": false}, "axis": null},
        "x2": {"field": "b2"},
        "y": {"field": "p1", "type": "quantitative", "scale": {"domain": [1.311972, 1.345068], "nice": false, "zero": false}, "axis": null},
        "y2": {"field": "p2"}
      }
    },
    {
      "data": {"name": "segs"},
      "transform": [{"filter": "datum.k == 'browndash'"}],
      "mark": {"type": "rule", "clip": true, "color": "#a8302c", "strokeWidth": 1.5, "strokeDash": [12, 6]},
      "encoding": {
        "x": {"field": "b1", "type": "quantitative", "scale": {"domain": [0, 330.667], "nice": false, "zero": false}, "axis": null},
        "x2": {"field": "b2"},
        "y": {"field": "p1", "type": "quantitative", "scale": {"domain": [1.311972, 1.345068], "nice": false, "zero": false}, "axis": null},
        "y2": {"field": "p2"}
      }
    },
    {
      "data": {"name": "segs"},
      "transform": [{"filter": "datum.k == 'navydot'"}],
      "mark": {"type": "rule", "clip": true, "color": "#2a2aa8", "strokeWidth": 1.2, "strokeDash": [2, 2]},
      "encoding": {
        "x": {"field": "b1", "type": "quantitative", "scale": {"domain": [0, 330.667], "nice": false, "zero": false}, "axis": null},
        "x2": {"field": "b2"},
        "y": {"field": "p1", "type": "quantitative", "scale": {"domain": [1.311972, 1.345068], "nice": false, "zero": false}, "axis": null},
        "y2": {"field": "p2"}
      }
    },
    {
      "data": {"name": "segs"},
      "transform": [{"filter": "datum.k == 'darkred'"}],
      "mark": {"type": "rule", "clip": true, "color": "#8b1a1a", "strokeWidth": 2},
      "encoding": {
        "x": {"field": "b1", "type": "quantitative", "scale": {"domain": [0, 330.667], "nice": false, "zero": false}, "axis": null},
        "x2": {"field": "b2"},
        "y": {"field": "p1", "type": "quantitative", "scale": {"domain": [1.311972, 1.345068], "nice": false, "zero": false}, "axis": null},
        "y2": {"field": "p2"}
      }
    },
    {
      "data": {"name": "segs"},
      "transform": [{"filter": "datum.k == 'bluedash'"}],
      "mark": {"type": "rule", "clip": true, "color": "#3050ff", "strokeWidth": 1, "strokeDash": [12, 7]},
      "encoding": {
        "x": {"field": "b1", "type": "quantitative", "scale": {"domain": [0, 330.667], "nice": false, "zero": false}, "axis": null},
        "x2": {"field": "b2"},
        "y": {"field": "p1", "type": "quantitative", "scale": {"domain": [1.311972, 1.345068], "nice": false, "zero": false}, "axis": null},
        "y2": {"field": "p2"}
      }
    },
    {
      "data": {"name": "segs"},
      "transform": [{"filter": "datum.k == 'pinkthin'"}],
      "mark": {"type": "rule", "clip": true, "color": "#f060a8", "strokeWidth": 1},
      "encoding": {
        "x": {"field": "b1", "type": "quantitative", "scale": {"domain": [0, 330.667], "nice": false, "zero": false}, "axis": null},
        "x2": {"field": "b2"},
        "y": {"field": "p1", "type": "quantitative", "scale": {"domain": [1.311972, 1.345068], "nice": false, "zero": false}, "axis": null},
        "y2": {"field": "p2"}
      }
    },
    {
      "data": {"name": "zz"},
      "transform": [{"filter": "datum.z == 'blue'"}],
      "mark": {"type": "line", "clip": true, "color": "#1e3cff", "strokeWidth": 2},
      "encoding": {
        "x": {"field": "b", "type": "quantitative", "scale": {"domain": [0, 330.667], "nice": false, "zero": false}, "axis": null},
        "y": {"field": "p", "type": "quantitative", "scale": {"domain": [1.311972, 1.345068], "nice": false, "zero": false}, "axis": null},
        "order": {"field": "i", "type": "quantitative"}
      }
    },
    {
      "data": {"name": "zz"},
      "transform": [{"filter": "datum.z == 'pink'"}],
      "mark": {"type": "line", "clip": true, "color": "#f5207e", "strokeWidth": 2},
      "encoding": {
        "x": {"field": "b", "type": "quantitative", "scale": {"domain": [0, 330.667], "nice": false, "zero": false}, "axis": null},
        "y": {"field": "p", "type": "quantitative", "scale": {"domain": [1.311972, 1.345068], "nice": false, "zero": false}, "axis": null},
        "order": {"field": "i", "type": "quantitative"}
      }
    },
    {
      "data": {"name": "segs"},
      "transform": [{"filter": "datum.k == 'bluearrow'"}],
      "mark": {"type": "rule", "color": "#2848d8", "strokeWidth": 2.5, "strokeCap": "round"},
      "encoding": {
        "x": {"field": "b1", "type": "quantitative", "scale": {"domain": [0, 330.667], "nice": false, "zero": false}, "axis": null},
        "x2": {"field": "b2"},
        "y": {"field": "p1", "type": "quantitative", "scale": {"domain": [1.311972, 1.345068], "nice": false, "zero": false}, "axis": null},
        "y2": {"field": "p2"}
      }
    },
    {
      "data": {"name": "segs"},
      "transform": [{"filter": "datum.k == 'redarrow'"}],
      "mark": {"type": "rule", "color": "#e02020", "strokeWidth": 2.5, "strokeCap": "round"},
      "encoding": {
        "x": {"field": "b1", "type": "quantitative", "scale": {"domain": [0, 330.667], "nice": false, "zero": false}, "axis": null},
        "x2": {"field": "b2"},
        "y": {"field": "p1", "type": "quantitative", "scale": {"domain": [1.311972, 1.345068], "nice": false, "zero": false}, "axis": null},
        "y2": {"field": "p2"}
      }
    },
    {
      "data": {"name": "txt"},
      "transform": [{"filter": "datum.k == 'serif'"}],
      "mark": {"type": "text", "font": "Liberation Serif", "fontSize": 9.5, "color": "#111111", "align": "center", "baseline": "middle"},
      "encoding": {
        "x": {"field": "b", "type": "quantitative", "scale": {"domain": [0, 330.667], "nice": false, "zero": false}, "axis": null},
        "y": {"field": "p", "type": "quantitative", "scale": {"domain": [1.311972, 1.345068], "nice": false, "zero": false}, "axis": null},
        "text": {"field": "t"}
      }
    },
    {
      "data": {"name": "txt"},
      "transform": [{"filter": "datum.k == 'pivot'"}],
      "mark": {"type": "text", "font": "Liberation Serif", "fontSize": 10, "color": "#111111", "align": "left", "baseline": "middle"},
      "encoding": {
        "x": {"field": "b", "type": "quantitative", "scale": {"domain": [0, 330.667], "nice": false, "zero": false}, "axis": null},
        "y": {"field": "p", "type": "quantitative", "scale": {"domain": [1.311972, 1.345068], "nice": false, "zero": false}, "axis": null},
        "text": {"field": "t"}
      }
    },
    {
      "data": {"name": "txt"},
      "transform": [{"filter": "datum.k == 'edge'"}],
      "mark": {"type": "text", "font": "Liberation Serif", "fontSize": 9.5, "color": "#111111", "align": "left", "baseline": "middle", "dx": 1},
      "encoding": {
        "x": {"field": "b", "type": "quantitative", "scale": {"domain": [0, 330.667], "nice": false, "zero": false}, "axis": null},
        "y": {"field": "p", "type": "quantitative", "scale": {"domain": [1.311972, 1.345068], "nice": false, "zero": false}, "axis": null},
        "text": {"field": "t"}
      }
    },
    {
      "data": {"name": "fib"},
      "transform": [{"filter": "datum.k == 'blue'"}],
      "mark": {"type": "text", "fontSize": 7.2, "color": "#4646ff", "align": "right", "baseline": "bottom", "dy": 0},
      "encoding": {
        "x": {"field": "b", "type": "quantitative", "scale": {"domain": [0, 330.667], "nice": false, "zero": false}, "axis": null},
        "y": {"field": "p", "type": "quantitative", "scale": {"domain": [1.311972, 1.345068], "nice": false, "zero": false}, "axis": null},
        "text": {"field": "t"}
      }
    },
    {
      "data": {"name": "fib"},
      "transform": [{"filter": "datum.k == 'mag'"}],
      "mark": {"type": "text", "fontSize": 7.2, "color": "#ff40ff", "align": "right", "baseline": "bottom", "dy": 0},
      "encoding": {
        "x": {"field": "b", "type": "quantitative", "scale": {"domain": [0, 330.667], "nice": false, "zero": false}, "axis": null},
        "y": {"field": "p", "type": "quantitative", "scale": {"domain": [1.311972, 1.345068], "nice": false, "zero": false}, "axis": null},
        "text": {"field": "t"}
      }
    },
    {
      "data": {"name": "ext"},
      "mark": {"type": "text", "fontSize": 7.2, "align": "right", "baseline": "bottom"},
      "encoding": {
        "x": {"field": "b", "type": "quantitative", "scale": {"domain": [0, 330.667], "nice": false, "zero": false}, "axis": null},
        "y": {"field": "p", "type": "quantitative", "scale": {"domain": [1.311972, 1.345068], "nice": false, "zero": false}, "axis": null},
        "text": {"field": "t"},
        "color": {"field": "t", "type": "nominal", "scale": {"domain": ["138.2", "61.8", "161.8", "176.4"], "range": ["#ff7f50", "#ff2020", "#ff8030", "#ff4020"]}, "legend": null}
      }
    },
    {
      "data": {"name": "head"},
      "mark": {"type": "text", "fontSize": 7.4, "color": "#000000", "align": "left", "baseline": "middle"},
      "encoding": {
        "x": {"field": "b", "type": "quantitative", "scale": {"domain": [0, 330.667], "nice": false, "zero": false}, "axis": null},
        "y": {"field": "p", "type": "quantitative", "scale": {"domain": [1.311972, 1.345068], "nice": false, "zero": false}, "axis": null},
        "text": {"field": "t"}
      }
    },
    {
      "data": {"name": "boxes"},
      "mark": {"type": "rule", "strokeWidth": 10, "strokeCap": "butt"},
      "encoding": {
        "x": {"datum": 331.5, "type": "quantitative", "scale": {"domain": [0, 330.667], "nice": false, "zero": false}, "axis": null},
        "x2": {"datum": 341},
        "y": {"field": "p", "type": "quantitative", "scale": {"domain": [1.311972, 1.345068], "nice": false, "zero": false}, "axis": null},
        "color": {"field": "k", "type": "nominal", "scale": {"domain": ["slate", "black", "crimson"], "range": ["#2f4f4f", "#000000", "#dc143c"]}, "legend": null}
      }
    },
    {
      "data": {"name": "boxes"},
      "mark": {"type": "text", "fontSize": 7, "color": "#ffffff", "align": "center", "baseline": "middle"},
      "encoding": {
        "x": {"datum": 336.2, "type": "quantitative", "scale": {"domain": [0, 330.667], "nice": false, "zero": false}, "axis": null},
        "y": {"field": "p", "type": "quantitative", "scale": {"domain": [1.311972, 1.345068], "nice": false, "zero": false}, "axis": null},
        "text": {"field": "t"}
      }
    }
  ]
}
